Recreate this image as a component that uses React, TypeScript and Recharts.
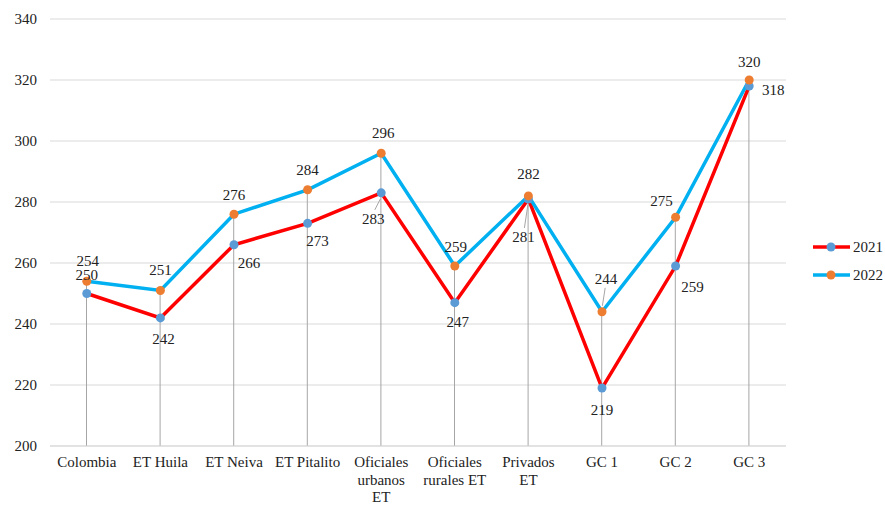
import React from "react";
import { ComposedChart, Line, Bar, XAxis, YAxis, CartesianGrid, LabelList } from "recharts";

const categories = ["Colombia", "ET Huila", "ET Neiva", "ET Pitalito", "Oficiales urbanos ET", "Oficiales rurales ET", "Privados ET", "GC 1", "GC 2", "GC 3"];
const tickLines: string[][] = [["Colombia"], ["ET Huila"], ["ET Neiva"], ["ET Pitalito"], ["Oficiales", "urbanos", "ET"], ["Oficiales", "rurales ET"], ["Privados", "ET"], ["GC 1"], ["GC 2"], ["GC 3"]];
const values2021 = [250, 242, 266, 273, 283, 247, 281, 219, 259, 318];
const values2022 = [254, 251, 276, 284, 296, 259, 282, 244, 275, 320];
const yTicks = [200, 220, 240, 260, 280, 300, 320, 340];
const seriesNames = ["2021", "2022"];

// label placement (dx, dy from point; leader flag)
const place2021: [number, number, boolean][] = [[0, -19, false], [3, 21, false], [15, 18, false], [10, 18, false], [-8, 26, true], [3, 19, false], [-5, 38, true], [0, 22, false], [17, 21, false], [24, 4, false]];
const place2022: [number, number, boolean][] = [[1, -20, false], [0, -20, false], [0, -19, false], [0, -20, false], [2, -20, false], [1, -19, false], [0, -22, false], [4, -33, true], [-14, -16, false], [0, -18, false]];

const data = categories.map((c, i) => ({
  name: c,
  v2021: values2021[i],
  v2022: values2022[i],
  drop: Math.max(values2021[i], values2022[i]),
}));

const FONT = "'Liberation Serif', 'Times New Roman', serif";
const TXT = { fontFamily: FONT, fontSize: 15 };

const makeLabel = (place: [number, number, boolean][]) => (props: any) => {
  const { x, y, value, index } = props;
  const [dx, dy, leader] = place[index];
  const tx = x + dx;
  const ty = y + dy;
  const dir = dy > 0 ? 1 : -1;
  return (
    <g>
      {leader && (
        <line x1={tx + (x - tx) * 0.2} y1={ty - dir * 9} x2={x - (x - tx) * 0.1} y2={y + dir * 6} stroke="#a6a6a6" strokeWidth={1} />
      )}
      <text x={tx} y={ty} textAnchor="middle" dominantBaseline="central" style={TXT} fill="#222">
        {value}
      </text>
    </g>
  );
};

const CustomTick = (props: any) => {
  const { x, y, index } = props;
  const lines = tickLines[index] || [];
  return (
    <g>
      {lines.map((l, i) => (
        <text key={i} x={x} y={y + 8 + i * 17.5} textAnchor="middle" dominantBaseline="central" style={TXT} fill="#222">
          {l}
        </text>
      ))}
    </g>
  );
};

const YTick = (props: any) => {
  const { x, y, payload } = props;
  return (
    <text x={x} y={y} textAnchor="end" dominantBaseline="central" style={TXT} fill="#222">
      {payload.value}
    </text>
  );
};

const LegendBox = () => {
  const items = [
    { label: seriesNames[0], line: "#FF0000", dot: "#5B9BD5" },
    { label: seriesNames[1], line: "#00B0F0", dot: "#ED7D31" },
  ];
  return (
    <svg width={80} height={50} style={{ position: "absolute", left: 812, top: 236 }}>
      {items.map((it, i) => (
        <g key={i} transform={`translate(0, ${11 + i * 28})`}>
          <line x1={1} y1={0} x2={38} y2={0} stroke={it.line} strokeWidth={3.5} />
          <circle cx={19} cy={0} r={4.5} fill={it.dot} />
          <text x={41} y={0} dominantBaseline="central" style={TXT} fill="#222">
            {it.label}
          </text>
        </g>
      ))}
    </svg>
  );
};

export default function App() {
  return (
    <div style={{ position: "absolute", left: 0, top: 0, width: 885, height: 506, background: "#fff" }}>
      <ComposedChart width={885} height={506} data={data} margin={{ top: 19, right: 99, bottom: 0, left: 0 }}>
        <CartesianGrid vertical={false} stroke="#d9d9d9" />
        <XAxis dataKey="name" tickLine={false} axisLine={{ stroke: "#d9d9d9" }} interval={0} height={60} tick={<CustomTick />} />
        <YAxis domain={[200, 340]} ticks={yTicks} width={50} axisLine={false} tickLine={false} tickMargin={7} tick={<YTick />} />
        <Bar dataKey="drop" barSize={1} fill="#a6a6a6" isAnimationActive={false} />
        <Line dataKey="v2021" stroke="#FF0000" strokeWidth={3.5} dot={{ r: 4.5, fill: "#5B9BD5", stroke: "#5B9BD5", strokeWidth: 0 }} activeDot={false} isAnimationActive={false}>
          <LabelList dataKey="v2021" content={makeLabel(place2021)} />
        </Line>
        <Line dataKey="v2022" stroke="#00B0F0" strokeWidth={3.5} dot={{ r: 4.5, fill: "#ED7D31", stroke: "#ED7D31", strokeWidth: 0 }} activeDot={false} isAnimationActive={false}>
          <LabelList dataKey="v2022" content={makeLabel(place2022)} />
        </Line>
      </ComposedChart>
      <LegendBox />
    </div>
  );
}
